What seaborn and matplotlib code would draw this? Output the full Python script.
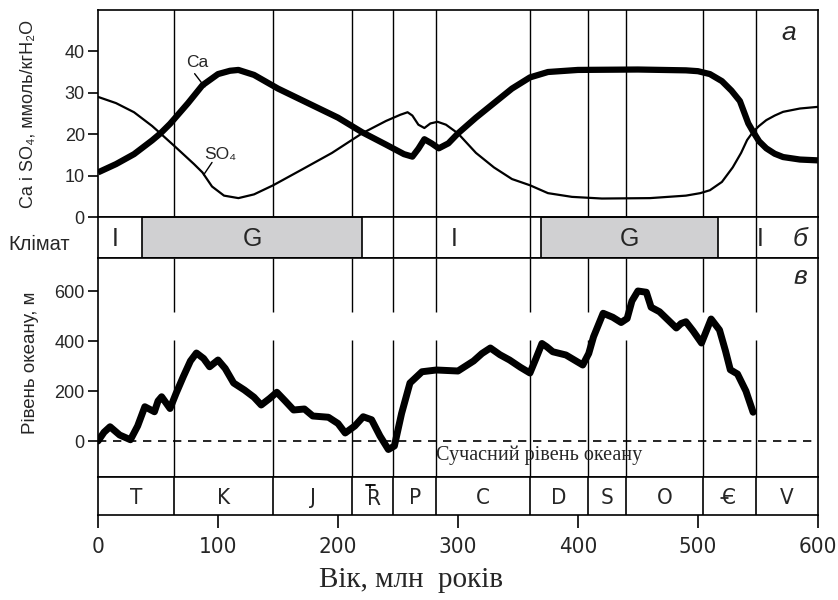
import matplotlib
matplotlib.use('Agg')
import matplotlib.pyplot as plt
import seaborn as sns

sns.set_style("white")
plt.rcParams['font.family'] = ['Liberation Sans', 'DejaVu Sans']

# Ca та SO4, ммоль/кг H2O
ca_age = [0, 15, 30, 45, 52, 60, 75, 87, 100, 110, 117, 130, 150, 175, 200, 220, 240,
          255, 262, 267, 272, 278, 284, 292, 300, 315, 330, 345, 360, 375, 400, 450,
          490, 500, 510, 520, 528, 535, 542, 546, 551, 557, 564, 571, 585, 600]
ca_val = [10.8, 12.8, 15.2, 18.5, 20.2, 22.5, 27.5, 31.8, 34.5, 35.3, 35.5, 34.3, 31.0,
          27.5, 24.0, 20.5, 17.5, 15.2, 14.6, 16.5, 18.8, 17.8, 16.6, 17.8, 20.2, 24.0,
          27.5, 31.0, 33.7, 35.0, 35.5, 35.6, 35.4, 35.2, 34.5, 32.8, 30.5, 28.0, 22.6,
          20.6, 18.3, 16.6, 15.3, 14.5, 13.9, 13.7]
so4_age = [0, 15, 30, 45, 52, 65, 80, 87, 95, 105, 117, 130, 146, 170, 195, 220, 240,
           252, 258, 262, 267, 272, 277, 283, 290, 300, 315, 330, 345, 360, 375, 395,
           420, 460, 490, 502, 510, 520, 529, 536, 541, 546, 551, 557, 564, 571, 585, 600]
so4_val = [29.0, 27.5, 25.3, 22.0, 20.2, 16.8, 12.8, 10.8, 7.4, 5.2, 4.6, 5.5, 7.7, 11.5,
           15.5, 20.2, 23.2, 24.7, 25.3, 24.5, 22.3, 21.5, 22.6, 23.0, 22.3, 20.2, 15.5,
           12.0, 9.2, 7.7, 5.8, 4.9, 4.5, 4.6, 5.2, 5.8, 6.5, 8.5, 12.0, 15.5, 18.6, 20.6,
           22.0, 23.4, 24.5, 25.4, 26.2, 26.6]

# рівень океану, м
sea_age = [0, 5, 10, 18, 27, 33, 39, 47, 50, 53, 60, 65, 71, 77, 82, 88, 93, 100, 106,
           113, 122, 130, 136, 143, 149, 156, 163, 172, 179, 192, 200, 206, 214, 221, 228,
           235, 242, 247, 253, 260, 270, 282, 300, 313, 320, 327, 335, 343, 352, 360, 365,
           370, 374, 379, 390, 404, 409, 413, 421, 429, 436, 441, 445, 450, 457, 461, 468,
           476, 482, 486, 490, 496, 503, 507, 511, 518, 523, 527, 533, 540, 546]
sea_level = [0, 35, 57, 24, 5, 60, 137, 117, 160, 177, 130, 190, 257, 320, 352, 330, 297,
             324, 290, 232, 204, 175, 144, 170, 195, 160, 124, 128, 100, 95, 70, 32, 60, 97,
             85, 20, -34, -20, 110, 232, 277, 284, 280, 320, 350, 372, 345, 324, 295, 272,
             330, 390, 377, 357, 344, 304, 350, 417, 511, 495, 474, 490, 560, 600, 595, 535,
             517, 480, 452, 470, 477, 440, 392, 440, 488, 444, 360, 285, 268, 200, 115]

period_bounds = [0, 63, 146, 212, 246, 282, 360, 408, 440, 504, 548, 600]
period_names = ['T', 'K', 'J', 'TR', 'P', 'C', 'D', 'S', 'O', 'Є', 'V']
climate_bounds = [0, 37, 220, 369, 517, 600]
climate_names = ['I', 'G', 'I', 'G', 'I']

inner = period_bounds[1:-1]
fig = plt.figure(figsize=(8.38, 6), dpi=100)
L, W = 0.117, 0.859
ax_top = fig.add_axes([L, 0.638, W, 0.345])
ax_clim = fig.add_axes([L, 0.570, W, 0.068])
ax_sea = fig.add_axes([L, 0.205, W, 0.365])
ax_per = fig.add_axes([L, 0.142, W, 0.063])

for ax in (ax_top, ax_clim, ax_sea, ax_per):
    ax.set_xlim(0, 600)
    ax.set_facecolor('white')
    for s in ax.spines.values():
        s.set_visible(True)
        s.set_color('black')
        s.set_linewidth(1.2)
    ax.set_xticks([])
    ax.set_yticks([])

tick_kw = dict(direction='out', length=7.5, width=1.2, color='black', labelsize=13, pad=2)
narrow = dict(family=['DejaVu Sans'], stretch='condensed')

# а: Ca і SO4
ax_top.set_ylim(0, 49.9)
for b in inner:
    ax_top.axvline(b, color='black', lw=1, zorder=1)
sns.lineplot(x=ca_age, y=ca_val, ax=ax_top, color='black', linewidth=4.5,
             solid_capstyle='butt', solid_joinstyle='round', zorder=3)
sns.lineplot(x=so4_age, y=so4_val, ax=ax_top, color='black', linewidth=1.6,
             solid_joinstyle='round', zorder=3)
ax_top.set_yticks([0, 10, 20, 30, 40])
ax_top.tick_params(axis='y', left=True, **tick_kw)
ax_top.set_xlabel('')
ax_top.set_ylabel('')
ax_top.text(82.5, 37.3, 'Ca', ha='center', va='center', fontsize=12.5)
ax_top.plot([80.5, 89], [34.6, 31.4], color='black', lw=1)
ax_top.text(102, 15.2, 'SO₄', ha='center', va='center', fontsize=12.5)
ax_top.plot([95, 88], [13.2, 10.2], color='black', lw=1)
ax_top.text(576, 44.5, 'а', ha='center', va='center', fontsize=19, style='italic')

# б: клімат
ax_clim.set_ylim(0, 1)
for b in inner:
    ax_clim.axvline(b, color='black', lw=1, zorder=1)
for i, name in enumerate(climate_names):
    x0, x1 = climate_bounds[i], climate_bounds[i + 1]
    if name == 'G':
        ax_clim.axvspan(x0, x1, color='#d0d0d2', ec='black', lw=1.2, zorder=2)
    xc = (x0 + x1) / 2 if name == 'G' else x0 + 14 if i == 0 else x0 + 77 if i == 2 else x0 + 35
    ax_clim.text(xc, 0.47, name, ha='center', va='center', fontsize=18, zorder=3)
ax_clim.text(585, 0.47, 'б', ha='center', va='center', fontsize=19, style='italic')
fig.text(0.010, 0.592, 'Клімат', ha='left', va='center', fontsize=14.5)

# в: рівень океану
ax_sea.set_ylim(-144, 732)
for b in inner:
    ax_sea.vlines(b, -144, 404, color='black', lw=1, zorder=1)
    ax_sea.vlines(b, 516, 732, color='black', lw=1, zorder=1)
ax_sea.axhline(0, color='black', lw=1.2, ls=(0, (5, 4)), zorder=2)
sns.lineplot(x=sea_age, y=sea_level, ax=ax_sea, color='black', linewidth=5,
             solid_capstyle='round', solid_joinstyle='round', zorder=3)
ax_sea.set_yticks([0, 200, 400, 600])
ax_sea.tick_params(axis='y', left=True, **tick_kw)
ax_sea.set_xlabel('')
ax_sea.set_ylabel('')
ax_sea.text(282, -58, 'Сучасний рівень океану', ha='left', va='center', fontsize=14.5,
            family=['Liberation Serif', 'DejaVu Serif'])
ax_sea.text(585, 655, 'в', ha='center', va='center', fontsize=19, style='italic')

# періоди
ax_per.set_ylim(0, 1)
for b in inner:
    ax_per.axvline(b, color='black', lw=1.2)
for i, name in enumerate(period_names):
    xc = (period_bounds[i] + period_bounds[i + 1]) / 2
    if name == 'TR':
        ax_per.text(xc + 1, 0.42, 'R', ha='center', va='center', fontsize=16, **narrow)
        ax_per.plot([xc - 6, xc + 2], [0.8, 0.8], color='black', lw=1.3)
        ax_per.plot([xc - 2, xc - 2], [0.8, 0.7], color='black', lw=1.3)
    elif name == 'Є':
        ax_per.text(xc, 0.45, name, ha='center', va='center', fontsize=16, **narrow)
        ax_per.plot([xc - 6.5, xc - 1], [0.45, 0.45], color='black', lw=1.1)
    else:
        ax_per.text(xc, 0.45, name, ha='center', va='center', fontsize=16, **narrow)
ax_per.set_xticks(range(0, 601, 100))
ax_per.tick_params(axis='x', bottom=True, direction='out', length=9, width=1.2,
                   color='black', labelsize=16, pad=7)
for lab in ax_per.get_xticklabels():
    lab.set_family(['DejaVu Sans'])
    lab.set_stretch('condensed')

fig.text(0.033, 0.81, 'Ca і SO₄, ммоль/кгH₂O', rotation=90, ha='center', va='center',
         fontsize=13)
fig.text(0.036, 0.395, 'Рівень океану, м', rotation=90, ha='center', va='center', fontsize=13.5)
fig.text(0.49, 0.033, 'Вік, млн  років', ha='center', va='center', fontsize=21,
         family=['Liberation Serif', 'DejaVu Serif'])

plt.savefig('out.png', dpi=100)
plt.close()
